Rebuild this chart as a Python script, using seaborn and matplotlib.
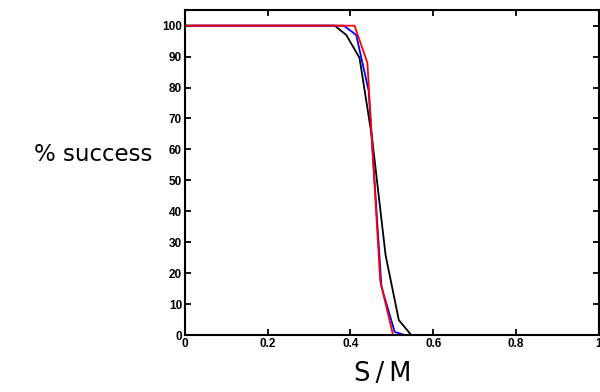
import matplotlib
matplotlib.use("Agg")
import matplotlib.pyplot as plt
import seaborn as sns
import pandas as pd

# Data
black_x = [0.0, 0.362, 0.390, 0.422, 0.452, 0.485, 0.517, 0.547, 1.0]
black_y = [100, 100, 97, 89.6, 64, 25.8, 4.8, 0, 0]
blue_x = [0.0, 0.384, 0.414, 0.444, 0.475, 0.507, 0.531, 0.98]
blue_y = [100, 100, 97, 79, 15.6, 1, 0, 0]
red_x = [0.0, 0.410, 0.441, 0.472, 0.503, 0.97]
red_y = [100, 100, 88, 17.5, 0, 0]

x_ticks = [0, 0.2, 0.4, 0.6, 0.8, 1]
x_tick_labels = ["0", "0.2", "0.4", "0.6", "0.8", "1"]
y_ticks = [0, 10, 20, 30, 40, 50, 60, 70, 80, 90, 100]

series_names = ["black", "blue", "red"]
series_colors = {"black": "#000000", "blue": "#0000ff", "red": "#ff0000"}

frames = []
for name, xs, ys in zip(series_names, [black_x, blue_x, red_x], [black_y, blue_y, red_y]):
    frames.append(pd.DataFrame({"x": xs, "y": ys, "series": name}))
df = pd.concat(frames, ignore_index=True)

sns.set_style("ticks")
plt.rcParams["font.family"] = ["DejaVu Sans"]
plt.rcParams["text.color"] = "black"
plt.rcParams["xtick.color"] = "black"
plt.rcParams["ytick.color"] = "black"

fig = plt.figure(figsize=(6.0, 3.92), dpi=100)
ax = fig.add_axes([0.308, 0.1454, 0.690, 0.8286])

sns.lineplot(data=df, x="x", y="y", hue="series", palette=series_colors,
             hue_order=series_names, sort=False, estimator=None,
             linewidth=1.3, legend=False, ax=ax)

ax.set_xlim(0, 1)
ax.set_ylim(0, 105)
ax.set_xticks(x_ticks)
ax.set_xticklabels(x_tick_labels)
ax.set_yticks(y_ticks)
for lab in ax.get_xticklabels() + ax.get_yticklabels():
    lab.set_fontfamily("Liberation Sans")
    lab.set_fontweight("bold")
    lab.set_fontsize(8.5)
    lab.set_color("black")
ax.tick_params(direction="in", length=4, width=1.3, top=True, right=True,
               pad=2, color="black", labelcolor="black")
for s in ax.spines.values():
    s.set_visible(True)
    s.set_linewidth(1.5)
    s.set_color("black")
ax.set_xlabel("")
ax.set_ylabel("")

fig.text(0.155, 0.605, "% success", fontsize=16.5, ha="center", va="center",
         color="black")
fig.text(0.638, 0.045, "S\u2009/\u2009M", fontsize=18.5, ha="center", va="center",
         color="black")

fig.savefig("out.png", dpi=100)
